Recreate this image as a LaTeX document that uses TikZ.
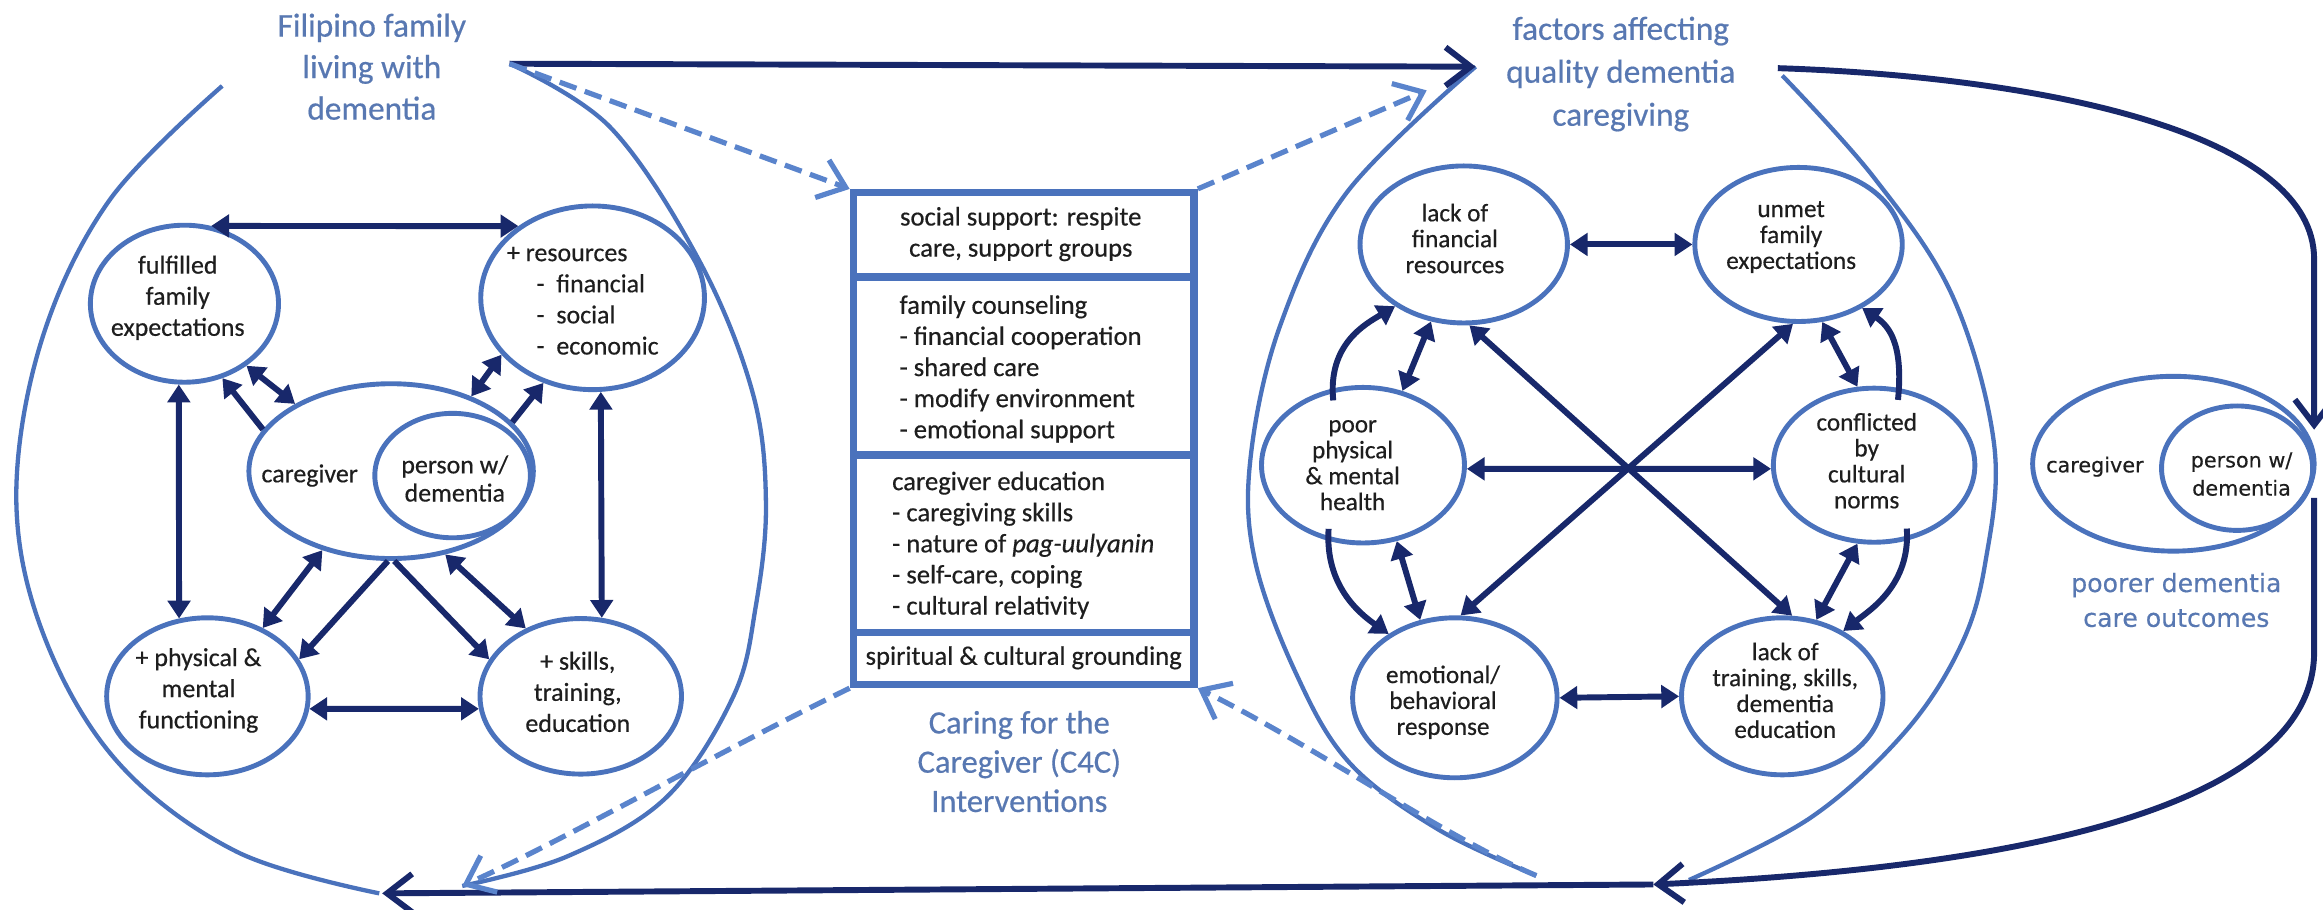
\documentclass[tikz,border=0pt]{standalone}
\usepackage{fontspec}
\setmainfont{Carlito}[FakeBold=0.45]
\newfontfamily\verdanalike{DejaVu Sans}[FakeBold=0.35]
\usetikzlibrary{arrows.meta,shapes.geometric}

\definecolor{ringblue}{HTML}{4A72BC}
\definecolor{navy}{HTML}{18286B}
\definecolor{headblue}{HTML}{5878B2}
\definecolor{dashblue}{HTML}{5A84CC}
\definecolor{ink}{HTML}{1E1E1E}

\newcommand{\fsLeft}{\fontsize{17.5}{21}\selectfont}
\newcommand{\fsPair}{\fontsize{17.5}{19}\selectfont}
\newcommand{\fsRight}{\fontsize{17}{17.5}\selectfont}
\newcommand{\fsBox}{\fontsize{18}{21}\selectfont}
\newcommand{\fsHead}{\fontsize{22.5}{28}\selectfont}
\newcommand{\fsHeadB}{\fontsize{22.5}{29}\selectfont}
\newcommand{\fsCap}{\fontsize{22}{26.5}\selectfont}
\newcommand{\fsOut}{\verdanalike\fontsize{17}{23.5}\selectfont}
\newcommand{\fsOutIn}{\verdanalike\fontsize{14}{19}\selectfont}

\begin{document}
\begin{tikzpicture}[x=1pt,y=-1pt,
  bubble/.style={ellipse, draw=ringblue, line width=3.3pt, inner sep=0pt},
  sect/.style={rectangle, draw=ringblue, line width=5pt, minimum width=230pt, inner sep=0pt},
  txt/.style={align=center, inner sep=0pt, text=ink},
  head/.style={align=center, inner sep=0pt, text=headblue},
  hull/.style={draw=ringblue, line width=2.9pt},
  twoway/.style={draw=navy, line width=4pt,
    {Triangle[length=12pt,width=15pt]}-{Triangle[length=12pt,width=15pt]}},
  oneway/.style={draw=navy, line width=4pt, -{Triangle[length=12pt,width=15pt]}},
  flow/.style={draw=navy, line width=4pt, -{Straight Barb[length=17pt,width=26pt]}},
  dflow/.style={draw=dashblue, line width=3.5pt, dash pattern=on 12pt off 6pt,
    -{Straight Barb[length=17pt,width=27pt]}}
]
% canvas
\fill[white] (0,0) rectangle (1568,614);
\useasboundingbox (0,0) rectangle (1568,614);

% ---------- end points of the three outer loops ----------
\coordinate (famTR) at (344,43);
\coordinate (famBL) at (258,603);
\coordinate (famBR) at (312,598);
\coordinate (facTL) at (996,45);
\coordinate (facTR) at (1200,46);
\coordinate (facD)  at (963,61);
\coordinate (facBL) at (1037,591);
\coordinate (facBR) at (1116,597);
\coordinate (ocIn)  at (1562,290);
\coordinate (ocOut) at (1562,336);

% ---------- outer loops ----------
\draw[hull] plot[smooth, tension=0.6] coordinates
  {(150,58) (74,135) (28,230) (11,337) (30,430) (80,515) (160,575) (256,603)};
\draw[hull] plot[smooth, tension=0.6] coordinates
  {(344,43) (412,86) (472,176) (508,265) (517,340) (510,410) (495,470) (450,538) (383,578) (312,598)};
\draw[hull] plot[smooth, tension=0.6] coordinates
  {(996,45) (909,130) (864,220) (844,310) (847,378) (875,455) (911,515) (971,560) (1037,591)};
\draw[hull] plot[smooth, tension=0.6] coordinates
  {(1203,51) (1265,120) (1318,200) (1346,300) (1340,380) (1323,437) (1285,495) (1222,552) (1140,594)};

% ---------- titles ----------
\node[head, font=\fsHead]  (t-fam) at (251,45)   {Filipino family\\living with\\dementia};
\node[head, font=\fsHeadB] (t-fac) at (1094,50)  {factors affecting\\quality dementia\\caregiving};
\node[head, font=\fsCap]   (t-c4c) at (688,514)  {Caring for the\\Caregiver (C4C)\\Interventions};
\node[head, font=\fsOut]   (t-out) at (1469,405) {poorer dementia\\care outcomes};

% ---------- family cluster ----------
\node[bubble, minimum width=127pt, minimum height=106pt] (ful)  at (124.5,205) {};
\node[bubble, minimum width=151pt, minimum height=124pt] (res)  at (400,201) {};
\node[bubble, minimum width=192pt, minimum height=118pt] (cg)   at (264,318) {};
\node[bubble, minimum width=105pt, minimum height=84pt]  (pwd)  at (305.5,321) {};
\node[bubble, minimum width=136pt, minimum height=106pt] (phys) at (140,470) {};
\node[bubble, minimum width=136pt, minimum height=105pt] (skl)  at (392,470) {};

\node[txt, font=\fsLeft] (ful-t)  at (120,201) {fulfilled\\family\\expectations};
\node[txt, font=\fsLeft, align=left, anchor=west] (res-t) at (342,203)
  {+ resources\\\hspace*{20pt}-\hspace*{8pt}financial\\\hspace*{20pt}-\hspace*{8pt}social\\\hspace*{20pt}-\hspace*{8pt}economic};
\node[txt, font=\fsLeft] (cg-t)   at (209,321) {caregiver};
\node[txt, font=\fsPair] (pwd-t)  at (307,323) {person w/\\dementia};
\node[txt, font=\fsLeft] (phys-t) at (134,466) {+ physical \&\\mental\\functioning};
\node[txt, font=\fsLeft] (skl-t)  at (390,467) {+ skills,\\training,\\education};

\draw[twoway] (ful.71)   -- (res.136);
\draw[twoway] (ful.-94)  -- (phys.110);
\draw[twoway] (res.-85)  -- (skl.75);
\draw[twoway] (phys.-7)  -- (skl.187);
\draw[oneway] (cg.162)   -- (ful.-63);
\draw[twoway] (ful.-45)  -- (cg.145);
\draw[twoway] (res.212)  -- (cg.43);
\draw[oneway] (cg.22)    -- (res.-120);
\draw[twoway] (cg.-131)  -- (phys.51);
\draw[oneway] (cg.-92)   -- (phys.22);
\draw[oneway] (cg.-88)   -- (skl.158);
\draw[twoway] (cg.-57)   -- (skl.129);

% ---------- C4C interventions ----------
\node[sect, minimum height=57pt]  (s1) at (691,158.5) {};
\node[sect, minimum height=120pt] (s2) at (691,247) {};
\node[sect, minimum height=120pt] (s3) at (691,367) {};
\node[sect, minimum height=35pt]  (s4) at (691,444.5) {};

\node[txt, font=\fsBox] (s1-t) at (689,158) {social support: respite\\care, support groups};
\node[txt, font=\fsBox, align=left, anchor=west] (s2-t) at (607,249)
  {family counseling\\- financial cooperation\\- shared care\\- modify environment\\- emotional support};
\node[txt, font=\fsBox, align=left, anchor=west] (s3-t) at (602,368)
  {caregiver education\\- caregiving skills\\- nature of \textit{pag-uulyanin}\\- self-care, coping\\- cultural relativity};
\node[txt, font=\fsBox] (s4-t) at (691,444) {spiritual \& cultural grounding};

% ---------- factors cluster ----------
\node[bubble, minimum width=140pt, minimum height=106pt] (lf)   at (988,165) {};
\node[bubble, minimum width=140pt, minimum height=104pt] (ufe)  at (1214,165) {};
\node[bubble, minimum width=137pt, minimum height=105pt] (poor) at (920,314) {};
\node[bubble, minimum width=136pt, minimum height=104pt] (conf) at (1265,314) {};
\node[bubble, minimum width=138pt, minimum height=108pt] (emo)  at (982,471) {};
\node[bubble, minimum width=136pt, minimum height=106pt] (lts)  at (1203,470) {};

\node[txt, font=\fsRight] (lf-t)   at (982,161)  {lack of\\financial\\resources};
\node[txt, font=\fsRight] (ufe-t)  at (1209,160) {unmet\\family\\expectations};
\node[txt, font=\fsRight] (poor-t) at (913,314)  {poor\\physical\\\& mental\\health};
\node[txt, font=\fsRight] (conf-t) at (1260,311) {conflicted\\by\\cultural\\norms};
\node[txt, font=\fsRight] (emo-t)  at (974,474)  {emotional/\\behavioral\\response};
\node[txt, font=\fsRight] (lts-t)  at (1205,466) {lack of\\training, skills,\\dementia\\education};

\draw[twoway] (lf.0)      -- (ufe.180);
\draw[twoway] (poor.-2)   -- (conf.182);
\draw[twoway] (emo.0)     -- (lts.180);
\draw[twoway] (poor.62)   -- (lf.-113);
\draw[twoway] (lf.-86)    -- (lts.83);
\draw[twoway] (ufe.-94)   -- (emo.86);
\draw[twoway] (ufe.-73)   -- (conf.102);
\draw[twoway] (poor.-66)  -- (emo.114);
\draw[twoway] (conf.-102) -- (lts.66);
\draw[oneway, shorten <=-8pt] (poor.112)  .. controls +(-3,-30) and +(-20,12)  .. (lf.-138);
\draw[oneway, shorten <=-8pt] (conf.72)   .. controls +(3,-30)  and +(18,12)   .. (ufe.-45);
\draw[oneway, shorten <=-8pt] (poor.-115) .. controls +(-2,30)  and +(-20,-14) .. (emo.136);
\draw[oneway, shorten <=-8pt] (conf.-66)  .. controls +(2,30)   and +(18,-14)  .. (lts.47);

% ---------- outcome ----------
\node[bubble, minimum width=190pt, minimum height=118pt] (oc)  at (1467,313) {};
\node[bubble, minimum width=102pt, minimum height=84pt]  (ocp) at (1510,316) {};
\node[txt, font=\fsOutIn] (oc-t)  at (1414,315) {caregiver};
\node[txt, font=\fsOutIn] (ocp-t) at (1513,320) {person w/\\dementia};

% ---------- flows between the three parts ----------
\draw[flow] (famTR) -- (facTL);
\draw[flow] (facTR) .. controls (1380,52) and (1562,90) .. (1562,175) -- (ocIn);
\draw[flow] (ocOut) -- (1562,440) .. controls (1562,540) and (1380,585) .. (facBR);
\draw[flow] (facBR) -- (famBL);

\draw[dflow] (famTR) -- (s1.north west);
\draw[dflow] (s1.north east) -- (facD);
\draw[dflow] (s4.south west) .. controls (480,510) and (385,565) .. (famBR);
\draw[dflow] (facBL) .. controls (975,565) and (890,505) .. (s4.south east);
\end{tikzpicture}
\end{document}
